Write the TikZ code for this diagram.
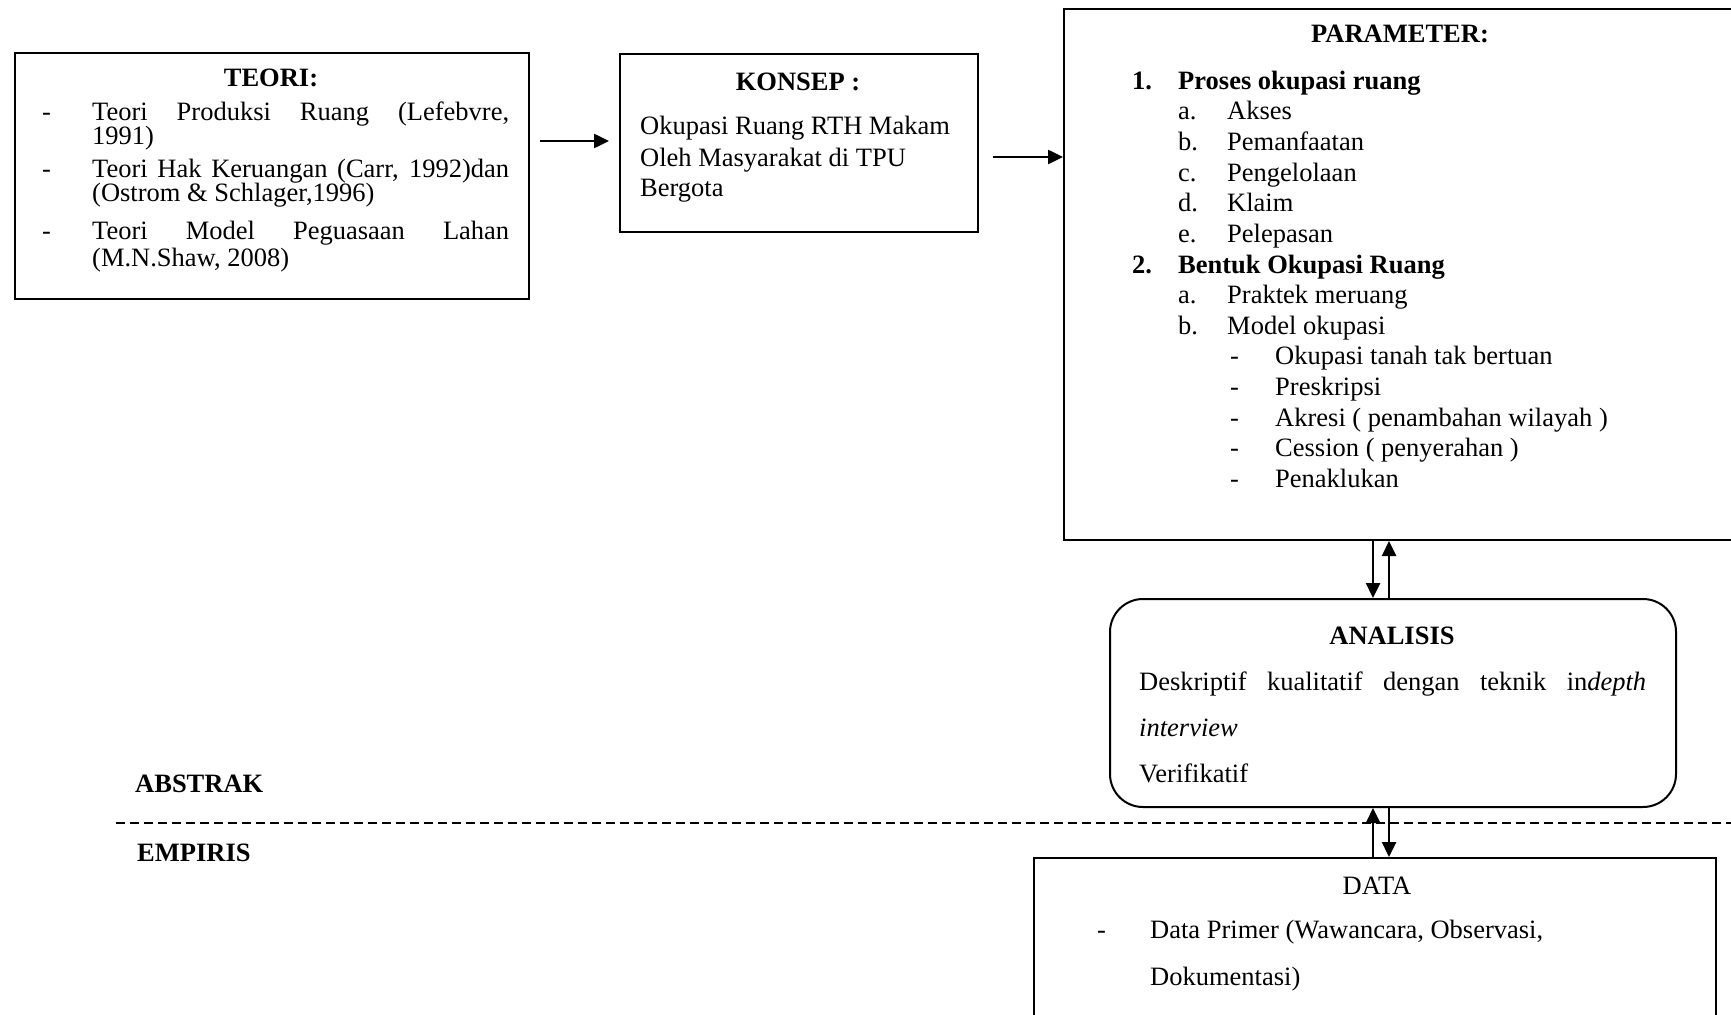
\documentclass[tikz,border=0pt]{standalone}
\usepackage{fontspec}
\setmainfont{Liberation Serif}
\usetikzlibrary{arrows.meta}
\newcommand\fs{\fontsize{26.5}{30}\selectfont}
\tikzset{
  box/.style={draw, line width=2pt, inner sep=0pt},
  txt/.style={anchor=base west, inner sep=0pt, font=\fs},
  ttl/.style={anchor=base, inner sep=0pt, font=\fs\bfseries},
  lbl/.style={anchor=base west, inner sep=0pt, font=\fs\bfseries},
  arr/.style={line width=2.5pt, -{Triangle[length=15pt,width=14pt]}},
  dashline/.style={line width=2pt, dash pattern=on 9pt off 5pt},
}
\begin{document}
\begin{tikzpicture}[x=1pt,y=-1pt]
\fill[white] (0,0) rectangle (1731,1014);
\useasboundingbox (0,0) rectangle (1731,1014);

% dashed separator
\coordinate (dl) at (116,823);
\coordinate (dr) at (1731,823);
\draw[dashline] (dl) -- (dr);
\node[lbl] (abstrak) at (135,792) {ABSTRAK};
\node[lbl] (empiris) at (137,861) {EMPIRIS};

% TEORI
\node[box, anchor=north west, minimum width=514pt, minimum height=246pt] (teori) at (14,52) {};
\node[ttl] (teoriT) at (271,87) {TEORI:};
\node[txt] (t1d) at (42,121) {-};
\node[txt] (t1) at (92,121) {\makebox[417pt][s]{Teori Produksi Ruang (Lefebvre,}};
\node[txt] (t2) at (92,145) {1991)};
\node[txt] (t3d) at (42,177) {-};
\node[txt] (t3) at (92,177) {\makebox[417pt][s]{Teori Hak Keruangan (Carr, 1992)dan}};
\node[txt] (t4) at (92,201) {(Ostrom \& Schlager,1996)};
\node[txt] (t5d) at (42,239) {-};
\node[txt] (t5) at (92,239) {\makebox[417pt][s]{Teori Model Peguasaan Lahan}};
\node[txt] (t6) at (92,266) {(M.N.Shaw, 2008)};

% KONSEP
\node[box, anchor=north west, minimum width=358pt, minimum height=178pt] (konsep) at (619,53) {};
\node[ttl] (konsepT) at (798,91) {KONSEP :};
\node[txt] (k1) at (640,135) {Okupasi Ruang RTH Makam};
\node[txt] (k2) at (640,166) {Oleh Masyarakat di TPU};
\node[txt] (k3) at (640,196) {Bergota};

% PARAMETER
\node[box, anchor=north west, minimum width=690pt, minimum height=531pt] (param) at (1063,8) {};
\node[ttl] (paramT) at (1400,43) {PARAMETER:};
\node[txt, font=\fs\bfseries] (p1n) at (1132,89.5) {1.};
\node[txt, font=\fs\bfseries] (p1) at (1178,89.5) {Proses okupasi ruang};
\node[txt] (pan) at (1178,120) {a.};   \node[txt] (pa) at (1227,120) {Akses};
\node[txt] (pbn) at (1178,150.6) {b.}; \node[txt] (pb) at (1227,150.6) {Pemanfaatan};
\node[txt] (pcn) at (1178,181.2) {c.}; \node[txt] (pc) at (1227,181.2) {Pengelolaan};
\node[txt] (pdn) at (1178,211.8) {d.}; \node[txt] (pd) at (1227,211.8) {Klaim};
\node[txt] (pen) at (1178,242.4) {e.}; \node[txt] (pe) at (1227,242.4) {Pelepasan};
\node[txt, font=\fs\bfseries] (p2n) at (1132,273) {2.};
\node[txt, font=\fs\bfseries] (p2) at (1178,273) {Bentuk Okupasi Ruang};
\node[txt] (qan) at (1178,303.6) {a.}; \node[txt] (qa) at (1227,303.6) {Praktek meruang};
\node[txt] (qbn) at (1178,334.2) {b.}; \node[txt] (qb) at (1227,334.2) {Model okupasi};
\node[txt] (r1d) at (1230,364.8) {-}; \node[txt] (r1) at (1275,364.8) {Okupasi tanah tak bertuan};
\node[txt] (r2d) at (1230,395.4) {-}; \node[txt] (r2) at (1275,395.4) {Preskripsi};
\node[txt] (r3d) at (1230,426) {-};   \node[txt] (r3) at (1275,426) {Akresi ( penambahan wilayah )};
\node[txt] (r4d) at (1230,456.6) {-}; \node[txt] (r4) at (1275,456.6) {Cession ( penyerahan )};
\node[txt] (r5d) at (1230,487.2) {-}; \node[txt] (r5) at (1275,487.2) {Penaklukan};

% ANALISIS
\node[box, rounded corners=33pt, fill=white, anchor=north west, minimum width=566pt, minimum height=208pt] (anal) at (1109,598) {};
\node[ttl] (analT) at (1392,644) {ANALISIS};
\node[txt] (an1) at (1139,690) {\makebox[507pt][s]{Deskriptif kualitatif dengan teknik in\textit{depth}}};
\node[txt] (an2) at (1139,736) {\textit{interview}};
\node[txt] (an3) at (1139,782) {Verifikatif};

% DATA
\node[box, fill=white, anchor=north west, minimum width=682pt, minimum height=200pt] (data) at (1033,857) {};
\node[anchor=base, inner sep=0pt, font=\fs] (dataT) at (1377,894) {DATA};
\node[txt] (d1d) at (1097,938) {-};
\node[txt] (d1) at (1150,938) {Data Primer (Wawancara, Observasi,};
\node[txt] (d2) at (1150,985) {Dokumentasi)};

% connectors
\coordinate (a1) at (0,141);
\coordinate (a2) at (0,157);
\coordinate (c1) at (1373,0);
\coordinate (c2) at (1389,0);
\draw[arr, shorten <=10pt, shorten >=10pt] (teori.east |- a1) -- (konsep.west |- a1);
\draw[arr, shorten <=14pt] (konsep.east |- a2) -- (param.west |- a2);
\draw[arr] (param.south -| c1) -- (anal.north -| c1);
\draw[arr] (anal.north -| c2) -- (param.south -| c2);
\draw[arr] (data.north -| c1) -- (anal.south -| c1);
\draw[arr] (anal.south -| c2) -- (data.north -| c2);
\end{tikzpicture}
\end{document}
